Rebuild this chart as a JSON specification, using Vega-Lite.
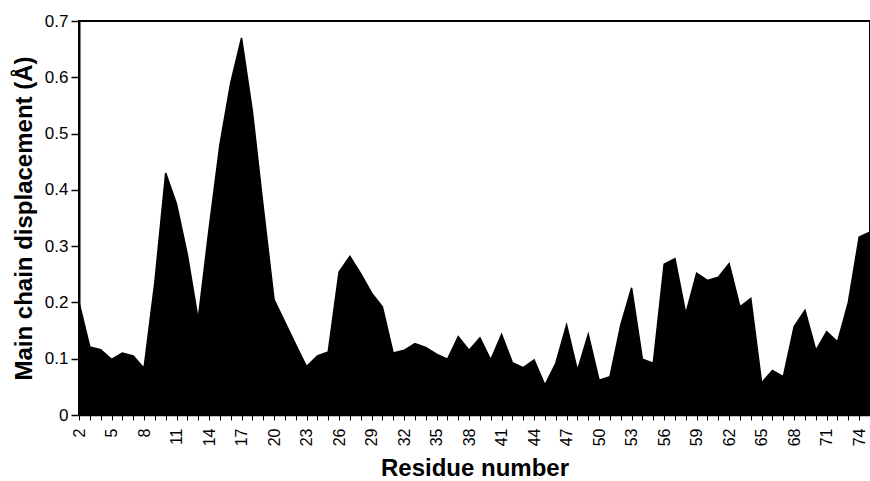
{
  "$schema": "https://vega.github.io/schema/vega-lite/v6.json",
  "width": 791,
  "height": 394,
  "autosize": {"type": "none"},
  "padding": {"left": 79, "top": 21, "right": 0, "bottom": 66},
  "background": "white",
  "config": {
    "font": "Liberation Sans",
    "view": {"stroke": "black", "strokeWidth": 2},
    "axis": {"grid": false, "domainColor": "black", "tickColor": "black", "labelColor": "black", "titleColor": "black", "labelFont": "Liberation Sans", "titleFont": "Liberation Sans"}
  },
  "data": {
    "values": [
      {"residue": 2, "disp": 0.2},
      {"residue": 3, "disp": 0.121},
      {"residue": 4, "disp": 0.116},
      {"residue": 5, "disp": 0.099},
      {"residue": 6, "disp": 0.11},
      {"residue": 7, "disp": 0.105},
      {"residue": 8, "disp": 0.083},
      {"residue": 9, "disp": 0.236},
      {"residue": 10, "disp": 0.43},
      {"residue": 11, "disp": 0.375},
      {"residue": 12, "disp": 0.285},
      {"residue": 13, "disp": 0.17},
      {"residue": 14, "disp": 0.33},
      {"residue": 15, "disp": 0.48},
      {"residue": 16, "disp": 0.59},
      {"residue": 17, "disp": 0.67},
      {"residue": 18, "disp": 0.54},
      {"residue": 19, "disp": 0.37},
      {"residue": 20, "disp": 0.205},
      {"residue": 21, "disp": 0.165},
      {"residue": 22, "disp": 0.125},
      {"residue": 23, "disp": 0.086},
      {"residue": 24, "disp": 0.105},
      {"residue": 25, "disp": 0.112},
      {"residue": 26, "disp": 0.254},
      {"residue": 27, "disp": 0.282},
      {"residue": 28, "disp": 0.251},
      {"residue": 29, "disp": 0.217},
      {"residue": 30, "disp": 0.192},
      {"residue": 31, "disp": 0.11},
      {"residue": 32, "disp": 0.115},
      {"residue": 33, "disp": 0.127},
      {"residue": 34, "disp": 0.12},
      {"residue": 35, "disp": 0.108},
      {"residue": 36, "disp": 0.099},
      {"residue": 37, "disp": 0.139},
      {"residue": 38, "disp": 0.115},
      {"residue": 39, "disp": 0.137},
      {"residue": 40, "disp": 0.098},
      {"residue": 41, "disp": 0.143},
      {"residue": 42, "disp": 0.093},
      {"residue": 43, "disp": 0.084},
      {"residue": 44, "disp": 0.098},
      {"residue": 45, "disp": 0.053},
      {"residue": 46, "disp": 0.092},
      {"residue": 47, "disp": 0.16},
      {"residue": 48, "disp": 0.079},
      {"residue": 49, "disp": 0.143},
      {"residue": 50, "disp": 0.062},
      {"residue": 51, "disp": 0.068},
      {"residue": 52, "disp": 0.16},
      {"residue": 53, "disp": 0.226},
      {"residue": 54, "disp": 0.099},
      {"residue": 55, "disp": 0.092},
      {"residue": 56, "disp": 0.268},
      {"residue": 57, "disp": 0.278},
      {"residue": 58, "disp": 0.18},
      {"residue": 59, "disp": 0.252},
      {"residue": 60, "disp": 0.239},
      {"residue": 61, "disp": 0.245},
      {"residue": 62, "disp": 0.269},
      {"residue": 63, "disp": 0.192},
      {"residue": 64, "disp": 0.207},
      {"residue": 65, "disp": 0.057},
      {"residue": 66, "disp": 0.079},
      {"residue": 67, "disp": 0.068},
      {"residue": 68, "disp": 0.157},
      {"residue": 69, "disp": 0.186},
      {"residue": 70, "disp": 0.115},
      {"residue": 71, "disp": 0.148},
      {"residue": 72, "disp": 0.13},
      {"residue": 73, "disp": 0.2},
      {"residue": 74, "disp": 0.316},
      {"residue": 75, "disp": 0.325}
    ]
  },
  "mark": {"type": "area", "color": "black", "stroke": "black", "strokeWidth": 1.5, "fillOpacity": 1},
  "encoding": {
    "x": {
      "field": "residue",
      "type": "quantitative",
      "scale": {"domain": [2, 75], "nice": false, "zero": false},
      "axis": {
        "title": "Residue number",
        "titleFontSize": 24,
        "titleFontWeight": "bold",
        "titlePadding": 11,
        "values": [2,3,4,5,6,7,8,9,10,11,12,13,14,15,16,17,18,19,20,21,22,23,24,25,26,27,28,29,30,31,32,33,34,35,36,37,38,39,40,41,42,43,44,45,46,47,48,49,50,51,52,53,54,55,56,57,58,59,60,61,62,63,64,65,66,67,68,69,70,71,72,73,74,75],
        "labelExpr": "(datum.value - 2) % 3 == 0 ? datum.value : ''",
        "labelAngle": -90,
        "labelFontSize": 16,
        "labelPadding": 8,
        "labelOverlap": false,
        "labelFlush": false,
        "tickSize": 5,
        "tickWidth": 1,
        "domainWidth": 1.5
      }
    },
    "y": {
      "field": "disp",
      "type": "quantitative",
      "scale": {"domain": [0, 0.7], "nice": false},
      "axis": {
        "title": "Main chain displacement (Å)",
        "titleFontSize": 24,
        "titleFontWeight": "bold",
        "titlePadding": 8,
        "values": [0, 0.1, 0.2, 0.3, 0.4, 0.5, 0.6, 0.7],
        "format": "~g",
        "labelFontSize": 17,
        "labelPadding": 3,
        "labelFlush": false,
        "tickSize": 8,
        "tickWidth": 1.5,
        "domainWidth": 2
      }
    }
  }
}
